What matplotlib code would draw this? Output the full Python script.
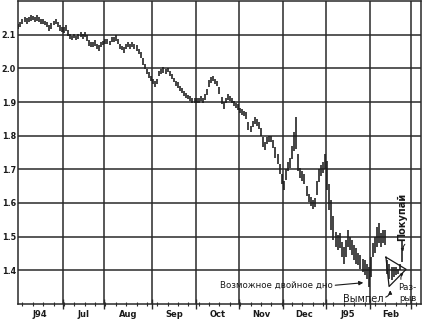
import matplotlib
matplotlib.use("Agg")
import matplotlib.pyplot as plt
import matplotlib.transforms as mtransforms
import numpy as np

# ---------------- data (daily high / low, Jun 1994 - Feb 1995) ----------------
highs_jun = [2.132,2.138,2.148,2.152,2.150,2.153,2.158,2.156,2.152,2.158,2.152,2.148,2.147,2.142,2.138,2.128,2.134,2.142,2.148,2.137,2.128,2.122]
lows_jun  = [2.118,2.122,2.132,2.138,2.132,2.137,2.142,2.144,2.138,2.142,2.138,2.132,2.133,2.128,2.122,2.110,2.116,2.128,2.132,2.123,2.112,2.108]
highs_jul = [2.124,2.128,2.115,2.102,2.097,2.101,2.097,2.102,2.107,2.102,2.108,2.098,2.083,2.077,2.078,2.083,2.073,2.068,2.078,2.082]
lows_jul  = [2.106,2.112,2.096,2.088,2.083,2.089,2.083,2.088,2.093,2.088,2.092,2.082,2.067,2.063,2.062,2.067,2.057,2.052,2.062,2.068]
highs_aug = [2.087,2.088,2.082,2.093,2.092,2.098,2.088,2.073,2.067,2.063,2.073,2.078,2.072,2.078,2.073,2.068,2.058,2.048,2.030,2.013,1.998,1.988,1.977]
lows_aug  = [2.073,2.072,2.068,2.077,2.078,2.082,2.072,2.057,2.053,2.047,2.057,2.062,2.058,2.062,2.057,2.052,2.042,2.032,2.010,1.997,1.982,1.972,1.963]
highs_sep = [1.968,1.962,1.968,1.993,1.998,2.003,1.998,2.002,1.993,1.983,1.972,1.963,1.958,1.948,1.942,1.933,1.927,1.922,1.917,1.912,1.912]
lows_sep  = [1.952,1.946,1.952,1.977,1.982,1.987,1.982,1.988,1.977,1.967,1.958,1.947,1.942,1.932,1.928,1.917,1.913,1.908,1.903,1.898,1.898]
highs_oct = [1.912,1.912,1.917,1.912,1.923,1.940,1.965,1.975,1.978,1.968,1.963,1.945,1.915,1.900,1.913,1.925,1.918,1.913,1.903,1.898,1.893]
lows_oct  = [1.898,1.898,1.903,1.898,1.907,1.920,1.945,1.955,1.962,1.952,1.947,1.925,1.893,1.878,1.897,1.905,1.902,1.897,1.887,1.882,1.877]
highs_nov = [1.883,1.878,1.873,1.870,1.842,1.830,1.845,1.855,1.850,1.840,1.822,1.795,1.782,1.795,1.800,1.800,1.787,1.765,1.745,1.715,1.685]
lows_nov  = [1.867,1.862,1.857,1.850,1.818,1.810,1.825,1.835,1.830,1.820,1.798,1.765,1.758,1.775,1.780,1.780,1.763,1.735,1.715,1.685,1.655]
highs_dec = [1.665,1.700,1.722,1.735,1.768,1.810,1.855,1.745,1.705,1.695,1.685,1.650,1.628,1.618,1.608,1.615,1.665,1.700,1.712,1.722,1.745]
lows_dec  = [1.638,1.668,1.695,1.705,1.732,1.755,1.760,1.695,1.675,1.665,1.655,1.620,1.602,1.592,1.582,1.588,1.625,1.662,1.680,1.690,1.700]
highs_jan = [1.725,1.655,1.610,1.560,1.515,1.505,1.510,1.485,1.470,1.490,1.520,1.500,1.490,1.475,1.465,1.450,1.445,1.435,1.430,1.420,1.410]
lows_jan  = [1.640,1.580,1.520,1.490,1.470,1.460,1.465,1.440,1.420,1.440,1.470,1.460,1.445,1.430,1.420,1.415,1.405,1.395,1.385,1.375,1.350]
highs_feb = [1.440,1.480,1.500,1.530,1.540,1.510,1.520,1.520,1.430,1.420,1.410,1.410,1.410,1.405,1.420,1.490]
lows_feb  = [1.380,1.440,1.450,1.470,1.480,1.470,1.480,1.475,1.390,1.375,1.370,1.380,1.385,1.390,1.400,1.425]

month_labels = ["J94", "Jul", "Aug", "Sep", "Oct", "Nov", "Dec", "J95", "Feb"]
month_starts = [0, 22, 42, 65, 86, 107, 128, 149, 170, 190]   # trading-day index of each month start
y_ticks = [1.4, 1.5, 1.6, 1.7, 1.8, 1.9, 2.0, 2.1]

highs = (highs_jun + highs_jul + highs_aug + highs_sep + highs_oct +
         highs_nov + highs_dec + highs_jan + highs_feb)
lows = (lows_jun + lows_jul + lows_aug + lows_sep + lows_oct +
        lows_nov + lows_dec + lows_jan + lows_feb)
days = np.arange(len(highs))

# ---------------- figure ----------------
fig = plt.figure(figsize=(4.26, 3.24), dpi=100)
ax = fig.add_axes([18/426, 20/324, (421-18)/426, (323-20)/324])
ax.set_xlim(-0.15, 194.2)
ax.set_ylim(1.3, 2.2)

ink = "#1a1a1a"
grid_c = "#2a2a2a"

# grid
for v in y_ticks:
    ax.axhline(v, color=grid_c, lw=1.1, zorder=1)
for s in month_starts[1:]:
    ax.axvline(s - 0.5, color=grid_c, lw=1.1, zorder=1)

# price bars
ax.vlines(days, lows, highs, color=ink, lw=1.15, zorder=3)

# spines
for sp in ax.spines.values():
    sp.set_color(grid_c)
    sp.set_linewidth(1.1)

# y ticks
ax.set_yticks(y_ticks)
ax.set_yticklabels([f"{v:.1f}" for v in y_ticks], fontsize=5.8, fontweight="bold", color=ink)
ax.tick_params(axis="y", length=0, pad=1.5)

# x ticks: month boundaries (major), weekly minor, labels via text
ax.set_xticks([s - 0.5 for s in month_starts[1:]])
ax.set_xticklabels([])
ax.set_xticks(np.arange(2, 194, 5), minor=True)
ax.tick_params(axis="x", which="major", direction="inout", length=7, width=1.0, color=grid_c)
ax.tick_params(axis="x", which="minor", direction="inout", length=3.5, width=0.8, color=grid_c)
ax.tick_params(axis="y", which="minor", length=0)

trans = mtransforms.blended_transform_factory(ax.transData, ax.transAxes)
for i, lab in enumerate(month_labels):
    c = (month_starts[i] + month_starts[i + 1]) / 2 - 0.5
    ax.text(c, -0.02, lab, transform=trans, ha="center", va="top",
            fontsize=6, fontweight="bold", color=ink)

# ---------------- annotations ----------------
tf = dict(color=ink, family="DejaVu Sans")
ax.text(124.3, 1.355, "Возможное двойное дно", ha="center", va="center", fontsize=6.2, **tf)
ax.annotate("", xy=(167.7, 1.364), xytext=(151.5, 1.355),
            arrowprops=dict(arrowstyle="-|>", color=ink, lw=0.8, mutation_scale=6))

ax.text(166.2, 1.314, "Вымпел", ha="center", va="center", fontsize=7, **tf)
ax.annotate("", xy=(179.2, 1.349), xytext=(175.9, 1.318),
            arrowprops=dict(arrowstyle="-|>", color=ink, lw=0.8, mutation_scale=5,
                            connectionstyle="arc3,rad=0.5"))

tri_x = [177.3, 187.0, 178.8, 177.3]
tri_y = [1.439, 1.403, 1.352, 1.439]
ax.plot(tri_x, tri_y, color=ink, lw=0.9, zorder=4)

ax.text(187.6, 1.350, "Раз-", ha="center", va="center", fontsize=6.2, **tf)
ax.text(188.0, 1.315, "рыв", ha="center", va="center", fontsize=6.2, **tf)
ax.annotate("", xy=(186.8, 1.398), xytext=(184.8, 1.365),
            arrowprops=dict(arrowstyle="-|>", color=ink, lw=0.7, mutation_scale=4,
                            connectionstyle="arc3,rad=-0.4"))

ax.text(185.3, 1.558, "Покупай", ha="center", va="center", rotation=90,
        fontsize=7, fontweight="bold", **tf)
ax.annotate("", xy=(186.0, 1.448), xytext=(187.4, 1.483),
            arrowprops=dict(arrowstyle="-|>", color=ink, lw=0.7, mutation_scale=4,
                            connectionstyle="arc3,rad=0.4"))

fig.savefig("out.png", dpi=100)
